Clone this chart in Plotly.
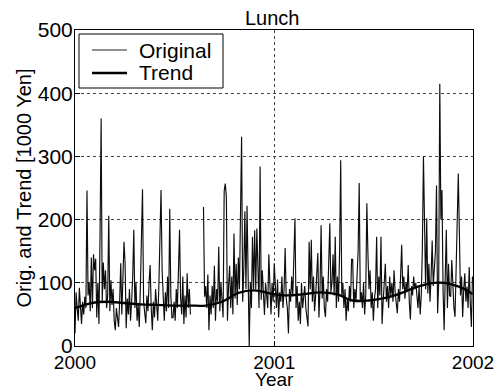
import pandas as pd
import plotly.graph_objects as go

# ---- data ----
start_date = "2000-01-01"
step_days = 2  # sampled every 2 days
N = None
original = [
    20, 85, 60, 40, 92, 55, 35, 70, 50, 78, 60, 246, 80, 100, 55,
    140, 60, 145, 120, 138, 45, 100, 35, 175, 360, 70, 132, 90, 120, 60,
    80, 206, 55, 104, 65, 90, 40, 25, 60, 45, 30, 70, 131, 50, 95,
    165, 131, 28, 75, 50, 90, 40, 70, 110, 184, 60, 100, 40, 65, 30,
    90, 150, 248, 70, 45, 36, 80, 55, 100, 128, 60, 25, 70, 45, 90,
    60, 40, 95, 180, 247, 120, 70, 40, 85, 55, 110, 60, 217, 80, 45,
    45, 70, 40, 90, 60, 120, 184, 75, 50, 110, 35, 80, 45, 115, 60,
    90, 50, N, N, N, N, N, N, N, N, N, N, N, 220, 78,
    95, 60, 113, 25, 80, 50, 95, 60, 127, 40, 90, 70, 157, 55, 100,
    70, 45, 245, 257, 236, 40, 95, 127, 60, 110, 50, 178, 75, 130, 65,
    140, 90, 250, 331, 70, 120, 213, 90, 222, 110, 0, 100, 60, 173, 90,
    183, 90, 186, 110, 60, 284, 73, 120, 80, 49, 100, 70, 60, 145, 85,
    50, 100, 70, 131, 90, 60, 105, 45, 85, 70, 110, 60, 90, 155, 75,
    60, 20, 90, 70, 110, 80, 150, 202, 60, 95, 40, 70, 35, 100, 60,
    75, 95, 60, 40, 31, 165, 90, 168, 70, 110, 55, 80, 120, 147, 45,
    90, 191, 75, 110, 60, 46, 90, 70, 120, 194, 85, 100, 145, 80, 173,
    60, 110, 70, 150, 294, 80, 100, 60, 90, 40, 75, 55, 95, 70, 137,
    137, 60, 90, 70, 110, 150, 258, 70, 85, 60, 100, 50, 80, 226, 147,
    90, 120, 60, 85, 40, 75, 90, 173, 60, 110, 80, 173, 35, 70, 100,
    130, 70, 95, 60, 110, 80, 100, 70, 120, 85, 60, 52, 90, 70, 110,
    160, 90, 110, 75, 100, 85, 128, 70, 42, 95, 80, 110, 90, 100, 75,
    60, 95, 50, 80, 155, 300, 200, 90, 202, 83, 130, 70, 110, 167, 95,
    120, 150, 254, 52, 100, 415, 200, 247, 90, 25, 110, 184, 60, 130, 80,
    78, 136, 90, 60, 46, 120, 160, 273, 178, 80, 110, 46, 90, 115, 70,
    94, 60, 125, 70, 30, 110,
]
trend_days = [0, 30, 60, 90, 120, 150, 180, 210, 240, 270, 300, 330, 360,
              390, 420, 450, 480, 510, 540, 570, 600, 630, 660, 690, 720, 730]
trend = [60, 68, 70, 68, 66, 65, 64, 64, 64, 70, 84, 88, 83,
         80, 82, 85, 82, 72, 72, 76, 84, 94, 100, 98, 88, 82]
series_names = ["Original", "Trend"]
x_tick_vals = ["2000-01-01", "2001-01-01", "2002-01-01"]
x_tick_text = ["2000", "2001", "2002"]
y_tick_vals = [0, 100, 200, 300, 400, 500]

dates = pd.date_range(start_date, periods=len(original), freq=f"{step_days}D")
trend_dates = pd.to_datetime(start_date) + pd.to_timedelta(trend_days, unit="D")

FONT = "Liberation Sans, Arial, Helvetica, sans-serif"
ORIG_LINE = dict(color="#0d0d0d", width=1.15)
TREND_LINE = dict(color="black", width=2.3)

fig = go.Figure()
fig.add_trace(go.Scatter(x=dates, y=original, mode="lines", name=series_names[0],
                         line=ORIG_LINE, connectgaps=False, showlegend=False))
fig.add_trace(go.Scatter(x=trend_dates, y=trend, mode="lines", name=series_names[1],
                         line=dict(**TREND_LINE, shape="spline"), showlegend=False))

axis_common = dict(showline=True, linecolor="black", linewidth=1, mirror=True,
                   ticks="inside", ticklen=5, tickcolor="black",
                   showgrid=True, gridcolor="#444", griddash="dot", gridwidth=1,
                   zeroline=False, automargin=False,
                   tickfont=dict(size=21, color="black", family=FONT))

# hand-built legend box (matches the boxed MATLAB-style legend)
W, H = 398.0, 316.0
def px(x):
    return (x - 75) / W
def py(y):
    return (346 - y) / H

shapes = [
    dict(type="rect", xref="paper", yref="paper", x0=px(79), x1=px(223),
         y0=py(88), y1=py(34), line=dict(color="black", width=1),
         fillcolor="white", layer="above"),
    dict(type="line", xref="paper", yref="paper", x0=px(92), x1=px(127),
         y0=py(50), y1=py(50), line=dict(color="#222", width=1), layer="above"),
    dict(type="line", xref="paper", yref="paper", x0=px(92), x1=px(127),
         y0=py(73), y1=py(73), line=TREND_LINE, layer="above"),
]
annotations = [
    dict(text=series_names[0], xref="paper", yref="paper", x=px(137), y=py(50),
         xanchor="left", yanchor="middle", showarrow=False,
         font=dict(size=21, family=FONT, color="black")),
    dict(text=series_names[1], xref="paper", yref="paper", x=px(137), y=py(73),
         xanchor="left", yanchor="middle", showarrow=False,
         font=dict(size=21, family=FONT, color="black")),
    dict(text="Year", xref="paper", yref="paper", x=0.5, y=py(380),
         xanchor="center", yanchor="middle", showarrow=False,
         font=dict(size=19, family=FONT, color="black")),
]

fig.update_layout(
    width=504, height=389,
    margin=dict(l=75, r=31, t=30, b=43),
    paper_bgcolor="white", plot_bgcolor="white",
    font=dict(family=FONT, size=20, color="black"),
    title=dict(text="Lunch", x=0.54, xanchor="center", y=1 - 18 / 389,
               yanchor="middle", yref="container",
               font=dict(size=20, family=FONT, color="black")),
    showlegend=False,
    shapes=shapes,
    annotations=annotations,
)
fig.update_xaxes(**axis_common, type="date",
                 range=[x_tick_vals[0], x_tick_vals[-1]],
                 tickmode="array", tickvals=x_tick_vals, ticktext=x_tick_text)
fig.update_xaxes(tickfont=dict(size=19, color="black", family=FONT),
                 ticklabelstandoff=-1)
fig.update_yaxes(**axis_common, range=[0, 500],
                 tickmode="array", tickvals=y_tick_vals,
                 ticklabelstandoff=-3,
                 title=dict(text="Orig. and Trend [1000 Yen]", standoff=0,
                            font=dict(size=20, family=FONT, color="black")))

fig.write_html("out.html")
